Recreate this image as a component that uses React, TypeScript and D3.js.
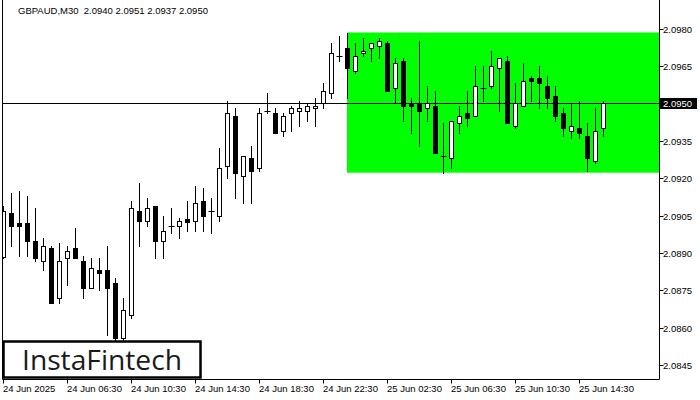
import React from 'react';
import * as d3 from 'd3';

const W = 700;
const H = 400;

const opens = [2.08885, 2.0906, 2.0902, 2.0902, 2.0895, 2.0887, 2.0892, 2.0872, 2.0888, 2.0892,
  2.0887, 2.0876, 2.0883, 2.0883, 2.0878, 2.0856, 2.0865, 2.0907, 2.0903, 2.0909,
  2.0895, 2.0901, 2.0901, 2.09035, 2.0903, 2.0911, 2.0907, 2.0905, 2.0925, 2.0945,
  2.0921, 2.0928, 2.0924, 2.0947, 2.0946, 2.0939, 2.0946, 2.0947, 2.0947, 2.0948,
  2.0950, 2.0954, 2.0969, 2.0972, 2.0963, 2.0970, 2.0972, 2.0973, 2.0974, 2.0956,
  2.0967, 2.0950, 2.0950, 2.0948, 2.0949, 2.0929, 2.0928, 2.0942, 2.0946, 2.0945,
  2.0956, 2.0957, 2.0964, 2.0967, 2.0941, 2.0949, 2.0960, 2.0960, 2.0957, 2.0953,
  2.0946, 2.0939, 2.0940, 2.0937, 2.0927, 2.0940];
const highs = [2.0909, 2.0914, 2.0915, 2.0913, 2.0908, 2.0896, 2.0893, 2.0894, 2.0893, 2.0900,
  2.0889, 2.0888, 2.0888, 2.0893, 2.0880, 2.0872, 2.0911, 2.0918, 2.0912, 2.0909,
  2.0905, 2.0908, 2.0904, 2.0911, 2.0917, 2.0916, 2.0912, 2.0932, 2.0951, 2.0948,
  2.0929, 2.0933, 2.0948, 2.0954, 2.0948, 2.0946, 2.0949, 2.0951, 2.0950, 2.0952,
  2.0958, 2.0974, 2.0977, 2.0978, 2.0974, 2.0976, 2.0974, 2.0976, 2.0975, 2.0968,
  2.0968, 2.0952, 2.0975, 2.0957, 2.0955, 2.0942, 2.0943, 2.0949, 2.0955, 2.0965,
  2.0965, 2.0971, 2.0968, 2.0969, 2.0958, 2.0966, 2.0961, 2.0965, 2.0961, 2.0957,
  2.0948, 2.0950, 2.0951, 2.0942, 2.0948, 2.0951];
const lows = [2.0888, 2.0893, 2.0889, 2.0889, 2.0887, 2.0883, 2.0870, 2.0870, 2.0877, 2.0888,
  2.0872, 2.0876, 2.0875, 2.0857, 2.0853, 2.0853, 2.0864, 2.0893, 2.0901, 2.0888,
  2.0888, 2.0898, 2.0896, 2.0899, 2.0899, 2.0899, 2.0898, 2.0903, 2.0920, 2.0912,
  2.0910, 2.0910, 2.0923, 2.0946, 2.0938, 2.0937, 2.0939, 2.0941, 2.0943, 2.0941,
  2.0948, 2.0952, 2.0967, 2.0952, 2.0962, 2.0969, 2.0967, 2.0968, 2.0955, 2.0950,
  2.0943, 2.0938, 2.0933, 2.0943, 2.0930, 2.0922, 2.0924, 2.0938, 2.0941, 2.0945,
  2.0951, 2.0956, 2.0947, 2.0942, 2.0940, 2.0949, 2.0951, 2.0948, 2.0948, 2.0943,
  2.0937, 2.0936, 2.0936, 2.0923, 2.0926, 2.0937];
const closes = [2.0907, 2.0901, 2.0901, 2.0895, 2.0888, 2.0893, 2.0870, 2.0887, 2.0891, 2.0888,
  2.0876, 2.0884, 2.0882, 2.0876, 2.0856, 2.0867, 2.0908, 2.0903, 2.0908, 2.0895,
  2.0899, 2.0901, 2.0903, 2.09025, 2.0910, 2.0905, 2.0907, 2.0924, 2.0946, 2.0922,
  2.0929, 2.0923, 2.0946, 2.0947, 2.0938, 2.0945, 2.0948, 2.0948, 2.0949, 2.0949,
  2.0955, 2.0970, 2.0969, 2.0964, 2.0969, 2.0971, 2.0974, 2.0975, 2.0955, 2.0966,
  2.0949, 2.0949, 2.0947, 2.0950, 2.0930, 2.0929, 2.0943, 2.0945, 2.0944, 2.0957,
  2.0956, 2.0965, 2.0968, 2.0942, 2.0950, 2.0959, 2.0959, 2.0958, 2.0952, 2.0945,
  2.0940, 2.0941, 2.0938, 2.0928, 2.0939, 2.0950];

const timeLabels = ['24 Jun 2025', '24 Jun 06:30', '24 Jun 10:30', '24 Jun 14:30', '24 Jun 18:30',
  '24 Jun 22:30', '25 Jun 02:30', '25 Jun 06:30', '25 Jun 10:30', '25 Jun 14:30'];
const timeLabelIndex = [0, 8, 16, 24, 32, 40, 48, 56, 64, 72];
const priceTicks = [2.0980, 2.0965, 2.0950, 2.0935, 2.0920, 2.0905, 2.0890, 2.0875, 2.0860, 2.0845];
const currentPrice = [2.0950];
const zoneStartIndex = [43];
const zoneTop = [2.09784];
const zoneBottom = [2.09222];
const titleText = 'GBPAUD,M30  2.0940 2.0951 2.0937 2.0950';
const logoText = 'InstaFintech';

const FONT = '"Liberation Sans", Arial, sans-serif';

export default function App() {
  const left = 2.5;
  const right = 659.5;
  const bottom = 379.5;
  const x = d3.scaleLinear().domain([0, opens.length - 1]).range([3.5, 603.5]);
  const y = d3.scaleLinear().domain([2.0845, 2.098]).range([365.3, 28.5]);
  const snap = (v: number) => Math.round(v) + 0.5;

  const candles = opens.map((o, i) => {
    const c = closes[i];
    const cx = x(i);
    const yH = y(highs[i]);
    const yL = y(lows[i]);
    const yT = snap(y(Math.max(o, c)));
    const yB = snap(y(Math.min(o, c)));
    const bull = c >= o;
    return (
      <g key={i}>
        <line x1={cx} x2={cx} y1={Math.round(yH)} y2={Math.round(yL) + 1} stroke="#000" strokeWidth={1} />
        {yB - yT < 1 ? (
          <line x1={cx - 3} x2={cx + 3} y1={yT} y2={yT} stroke="#000" strokeWidth={1} />
        ) : (
          <rect x={cx - 2} y={yT} width={4} height={yB - yT} fill={bull ? '#fff' : '#000'} stroke="#000" strokeWidth={1} />
        )}
      </g>
    );
  });

  const zx = x(zoneStartIndex[0]) - 0.5;
  const zy1 = y(zoneTop[0]);
  const zy2 = y(zoneBottom[0]);
  const cpY = snap(y(currentPrice[0]));

  return (
    <svg width={W} height={H} style={{ position: 'absolute', left: 0, top: 0, background: '#fff' }}>
      <defs>
        <clipPath id="plotClip">
          <rect x={left} y={0} width={right - left} height={bottom} />
        </clipPath>
      </defs>
      <rect x={0} y={0} width={W} height={H} fill="#fff" />
      <g clipPath="url(#plotClip)">
        <rect x={zx} y={zy1} width={right - zx} height={zy2 - zy1} fill="#00ff00" />
        <line x1={left} x2={right} y1={cpY} y2={cpY} stroke="#000" strokeWidth={1} />
        {candles}
      </g>
      {/* frame */}
      <line x1={left} x2={left} y1={0} y2={bottom} stroke="#000" strokeWidth={1} />
      <line x1={right} x2={right} y1={0} y2={bottom} stroke="#000" strokeWidth={1} />
      <line x1={left} x2={right} y1={bottom} y2={bottom} stroke="#000" strokeWidth={1} />
      {/* title */}
      <text x={18} y={14} fontFamily={FONT} fontSize={9.5} fill="#000" style={{ whiteSpace: 'pre' }}>{titleText}</text>
      {/* y axis */}
      {priceTicks.map((p, i) => {
        const ty = snap(y(p));
        return (
          <g key={'yt' + i}>
            <line x1={right} x2={right + 4} y1={ty} y2={ty} stroke="#000" strokeWidth={1} />
            {p !== currentPrice[0] && (
              <text x={663} y={ty} dy="0.35em" fontFamily={FONT} fontSize={9.5} fill="#000">{p.toFixed(4)}</text>
            )}
          </g>
        );
      })}
      <rect x={660} y={cpY - 5.5} width={37} height={11} fill="#000" />
      <text x={663} y={cpY} dy="0.35em" fontFamily={FONT} fontSize={9.5} fill="#fff">{currentPrice[0].toFixed(4)}</text>
      {/* x axis */}
      {timeLabelIndex.map((idx, i) => {
        const tx = x(idx);
        return (
          <g key={'xt' + i}>
            <line x1={tx} x2={tx} y1={bottom} y2={bottom + 4} stroke="#000" strokeWidth={1} />
            <text x={tx - 0.5} y={392} fontFamily={FONT} fontSize={9.5} fill="#000">{timeLabels[i]}</text>
          </g>
        );
      })}
      {/* logo */}
      <rect x={3.5} y={341.5} width={197} height={36} fill="#fff" stroke="#000" strokeWidth={2.5} />
      <text x={22} y={370} fontFamily='"Open Sans", "Noto Sans", sans-serif' fontSize={27} fill="#1a1a1a" textLength={160} lengthAdjust="spacingAndGlyphs">{logoText}</text>
    </svg>
  );
}
